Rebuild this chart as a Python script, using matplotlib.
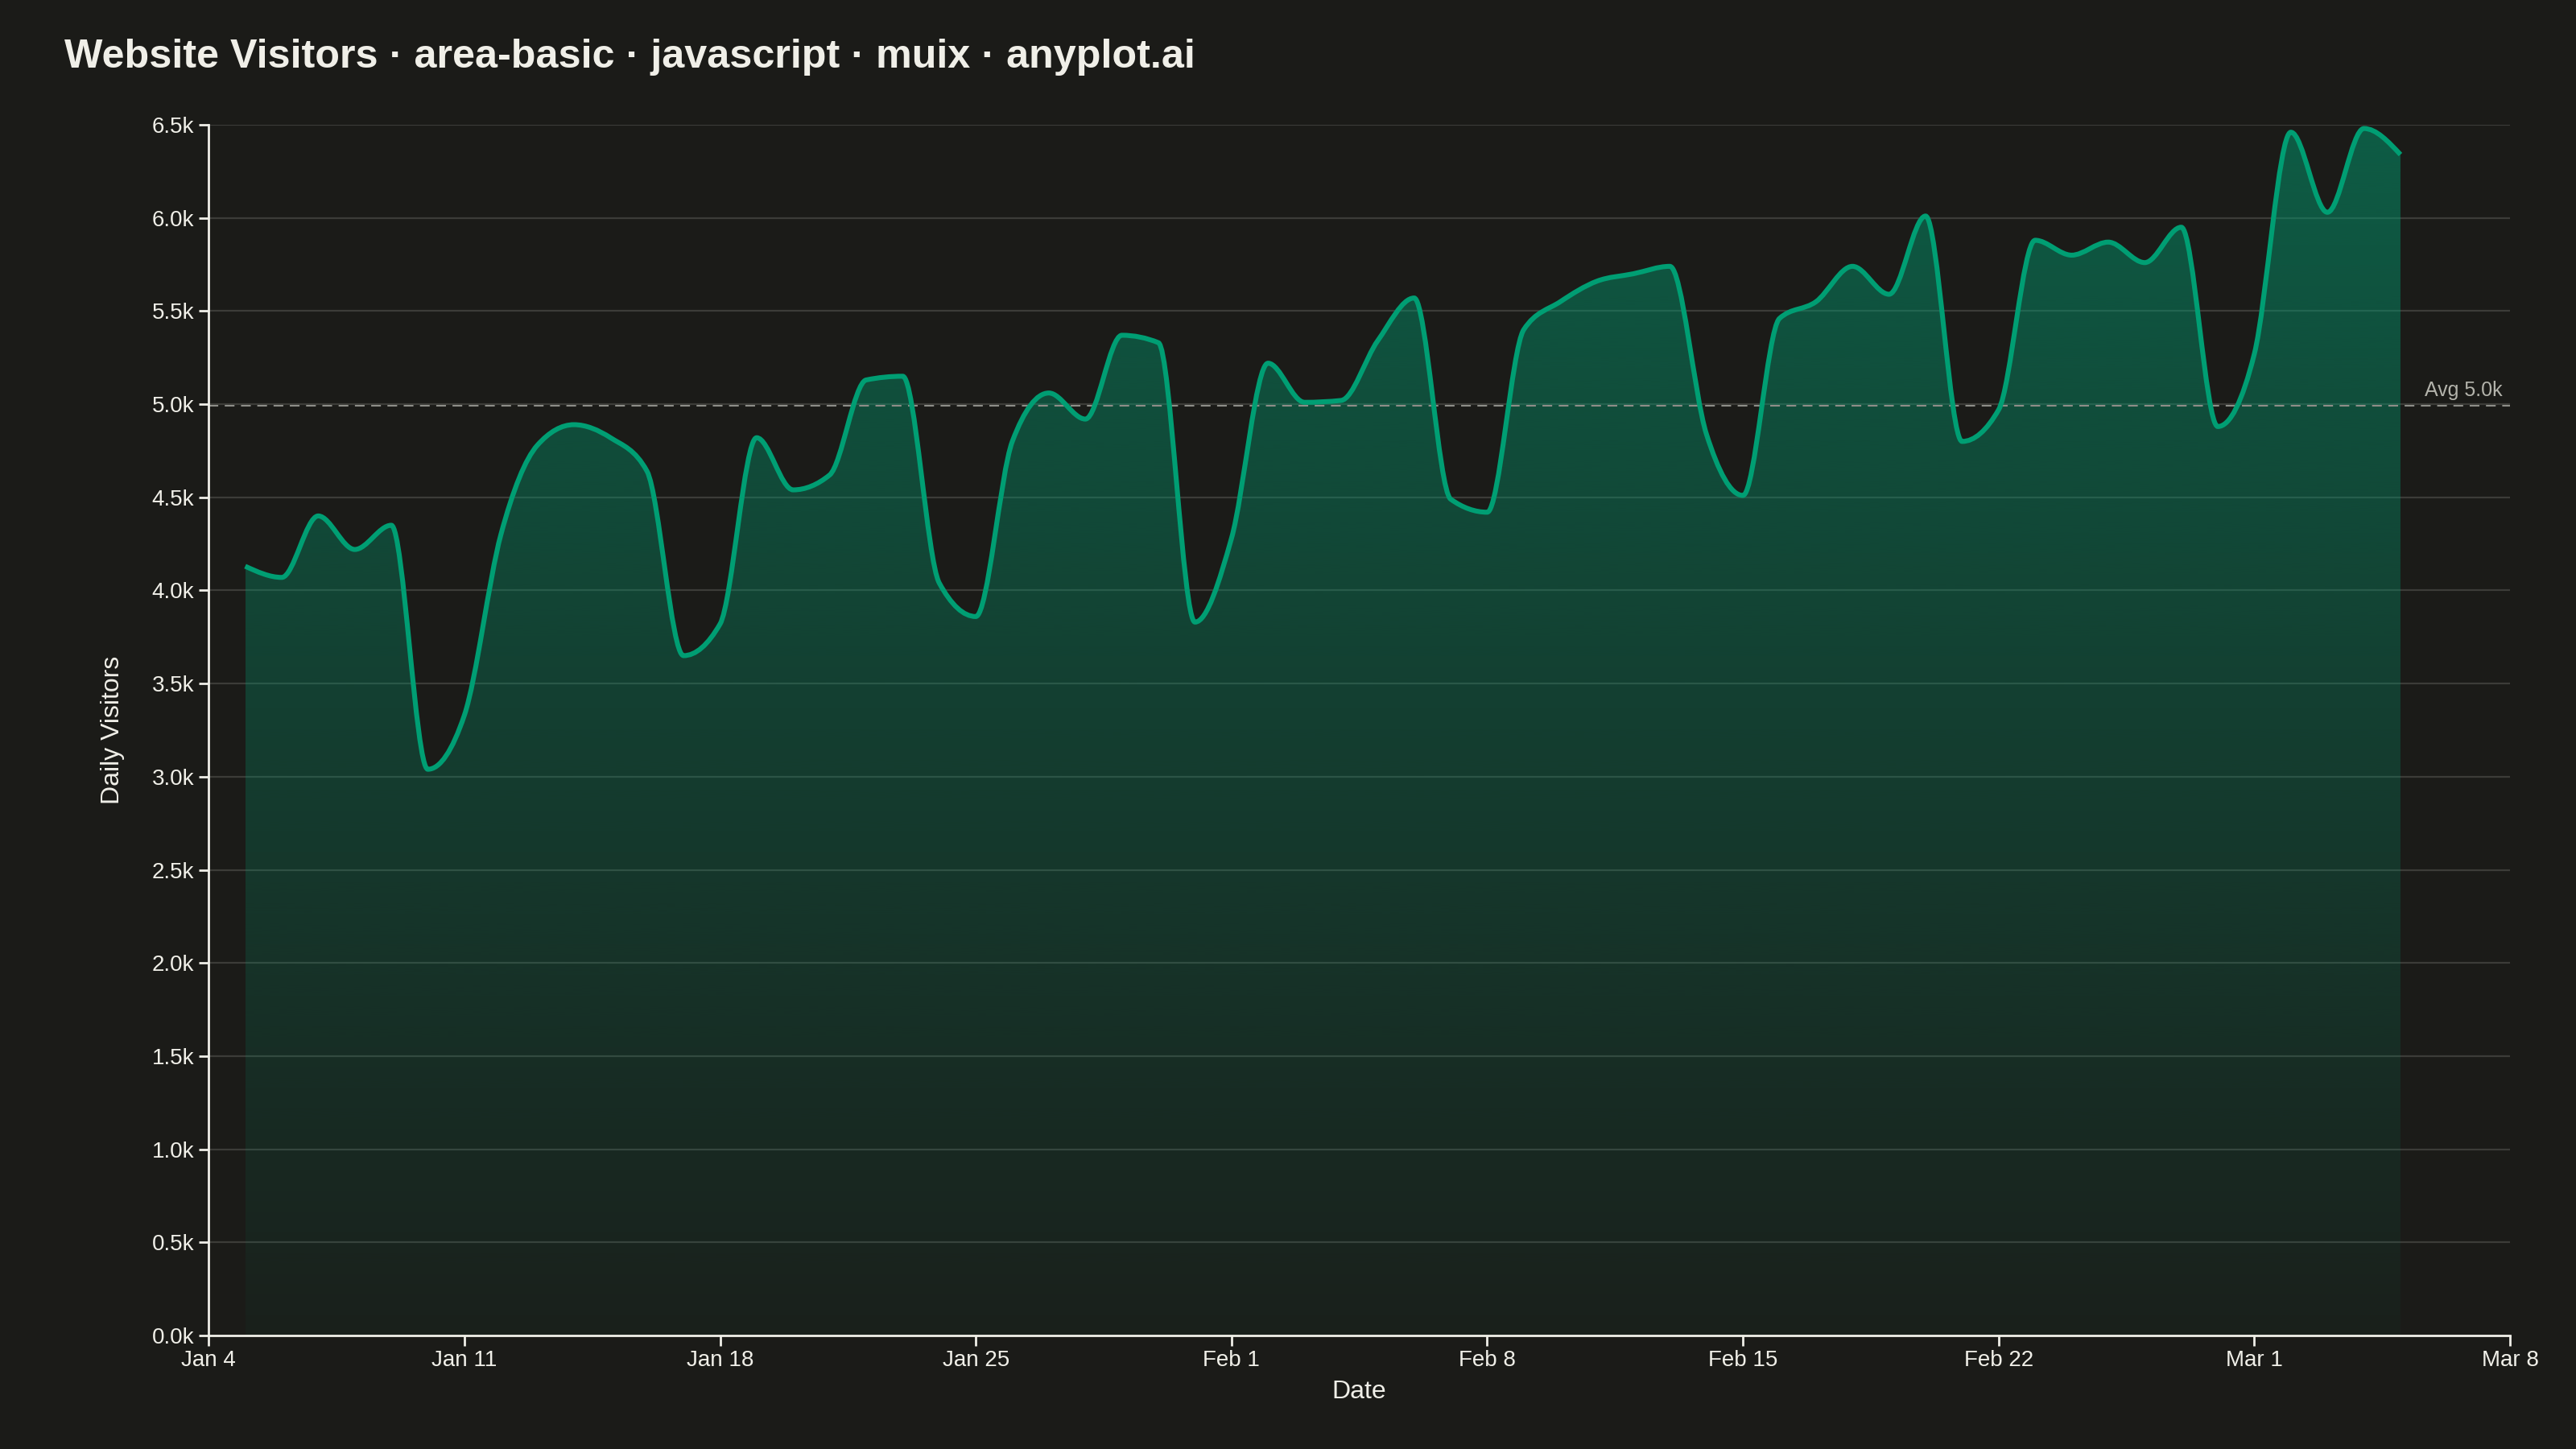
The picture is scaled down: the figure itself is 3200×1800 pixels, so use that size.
import numpy as np
import matplotlib
matplotlib.use("Agg")
import matplotlib.pyplot as plt
import matplotlib.dates as mdates
from matplotlib.path import Path
from matplotlib.patches import PathPatch
from matplotlib.ticker import MultipleLocator, FuncFormatter

# daily visitors, Jan 5 - Mar 5 2026 (thousands)
dates = np.arange(np.datetime64("2026-01-05"), np.datetime64("2026-03-06"))
visitors = [
    4.13, 4.07, 4.40, 4.22, 4.35, 3.04, 3.33, 4.30, 4.78, 4.89,
    4.82, 4.64, 3.65, 3.82, 4.82, 4.54, 4.62, 5.13, 5.15, 4.04,
    3.86, 4.80, 5.06, 4.92, 5.37, 5.33, 3.83, 4.28, 5.22, 5.01,
    5.02, 5.34, 5.57, 4.49, 4.42, 5.40, 5.55, 5.66, 5.70, 5.74,
    4.84, 4.51, 5.46, 5.55, 5.74, 5.59, 6.01, 4.80, 4.97, 5.88,
    5.80, 5.87, 5.76, 5.95, 4.88, 5.27, 6.46, 6.03, 6.48, 6.34,
]
title = "Website Visitors · area-basic · javascript · muix · anyplot.ai"

BG = "#1b1b18"
INK = "#f0efe8"
GREEN = "#009e73"
plt.rcParams["font.family"] = ["Liberation Sans", "DejaVu Sans"]


# monotone cubic (same tangents as d3.curveMonotoneX), as bezier path
def sign(v):
    return -1.0 if v < 0 else 1.0

def monotone_path(x, y):
    n = len(x)
    t = np.zeros(n)
    for i in range(1, n - 1):
        h0 = x[i] - x[i - 1]
        h1 = x[i + 1] - x[i]
        s0 = (y[i] - y[i - 1]) / h0
        s1 = (y[i + 1] - y[i]) / h1
        p = (s0 * h1 + s1 * h0) / (h0 + h1)
        t[i] = (sign(s0) + sign(s1)) * min(abs(s0), abs(s1), 0.5 * abs(p))
    t[0] = (3 * (y[1] - y[0]) / (x[1] - x[0]) - t[1]) / 2
    t[-1] = (3 * (y[-1] - y[-2]) / (x[-1] - x[-2]) - t[-2]) / 2
    verts = [(x[0], y[0])]
    codes = [Path.MOVETO]
    for i in range(n - 1):
        dx = (x[i + 1] - x[i]) / 3
        verts += [(x[i] + dx, y[i] + dx * t[i]),
                  (x[i + 1] - dx, y[i + 1] - dx * t[i + 1]),
                  (x[i + 1], y[i + 1])]
        codes += [Path.CURVE4] * 3
    return verts, codes


def dnum(s):
    return mdates.date2num(np.datetime64(s).astype(object))


xs = mdates.date2num(dates.astype("datetime64[D]").astype(object))
ys = np.array(visitors)
verts, codes = monotone_path(xs, ys)

fig = plt.figure(figsize=(16, 9), dpi=200, facecolor=BG)
ax = fig.add_axes([0.081, 0.0783, 0.8934, 0.8356], facecolor=BG)

# gradient fill clipped to the area under the curve
area = Path([(xs[0], 0)] + verts + [(xs[-1], 0), (xs[0], 0)],
            [Path.MOVETO, Path.LINETO] + codes[1:] + [Path.LINETO, Path.CLOSEPOLY])
patch = PathPatch(area, facecolor="none", edgecolor="none")
ax.add_patch(patch)
rgb = matplotlib.colors.to_rgb(GREEN)
grad = np.zeros((256, 1, 4))
grad[:, 0, :3] = rgb
grad[:, 0, 3] = np.linspace(0.5, 0.04, 256)
img = ax.imshow(grad, extent=[xs[0], xs[-1], 0, 6.5], aspect="auto",
                origin="upper", zorder=1, interpolation="bicubic")
img.set_clip_path(patch)

ax.add_patch(PathPatch(Path(verts, codes), facecolor="none", edgecolor=GREEN,
                       lw=2.2, zorder=3, capstyle="butt", joinstyle="round"))

avg = ys.mean()
ax.axhline(avg, color="#8d8d87", lw=0.75, linestyle=(0, (5.8, 3.9)), zorder=2.5)
ax.text(dnum("2026-03-08") - 0.2, avg + 0.03, f"Avg {avg:.1f}k",
        color="#b3b3ab", fontsize=9, ha="right", va="bottom")

ax.set_xlim(dnum("2026-01-04"), dnum("2026-03-08"))
ax.set_ylim(0, 6.5)
ax.xaxis.set_major_locator(mdates.WeekdayLocator(byweekday=mdates.SU))
ax.xaxis.set_major_formatter(mdates.DateFormatter("%b %-d"))
ax.yaxis.set_major_locator(MultipleLocator(0.5))
ax.yaxis.set_major_formatter(FuncFormatter(lambda v, p: f"{v:.1f}k"))

ax.grid(axis="y", color="#3c3c38", lw=0.8)
ax.set_axisbelow(True)
for s in ["top", "right"]:
    ax.spines[s].set_visible(False)
for s in ["left", "bottom"]:
    ax.spines[s].set_color(INK)
    ax.spines[s].set_linewidth(1.0)
ax.tick_params(colors=INK, labelsize=10, length=4.5, width=1.0, pad=2)

ax.set_xlabel("Date", color=INK, fontsize=11.5, labelpad=4)
ax.set_ylabel("Daily Visitors", color=INK, fontsize=11.5, labelpad=12)
fig.text(0.025, 0.9605, title, color=INK, fontsize=18.1, fontweight="bold",
         ha="left", va="center")

fig.savefig("out.png", dpi=200, facecolor=BG)
